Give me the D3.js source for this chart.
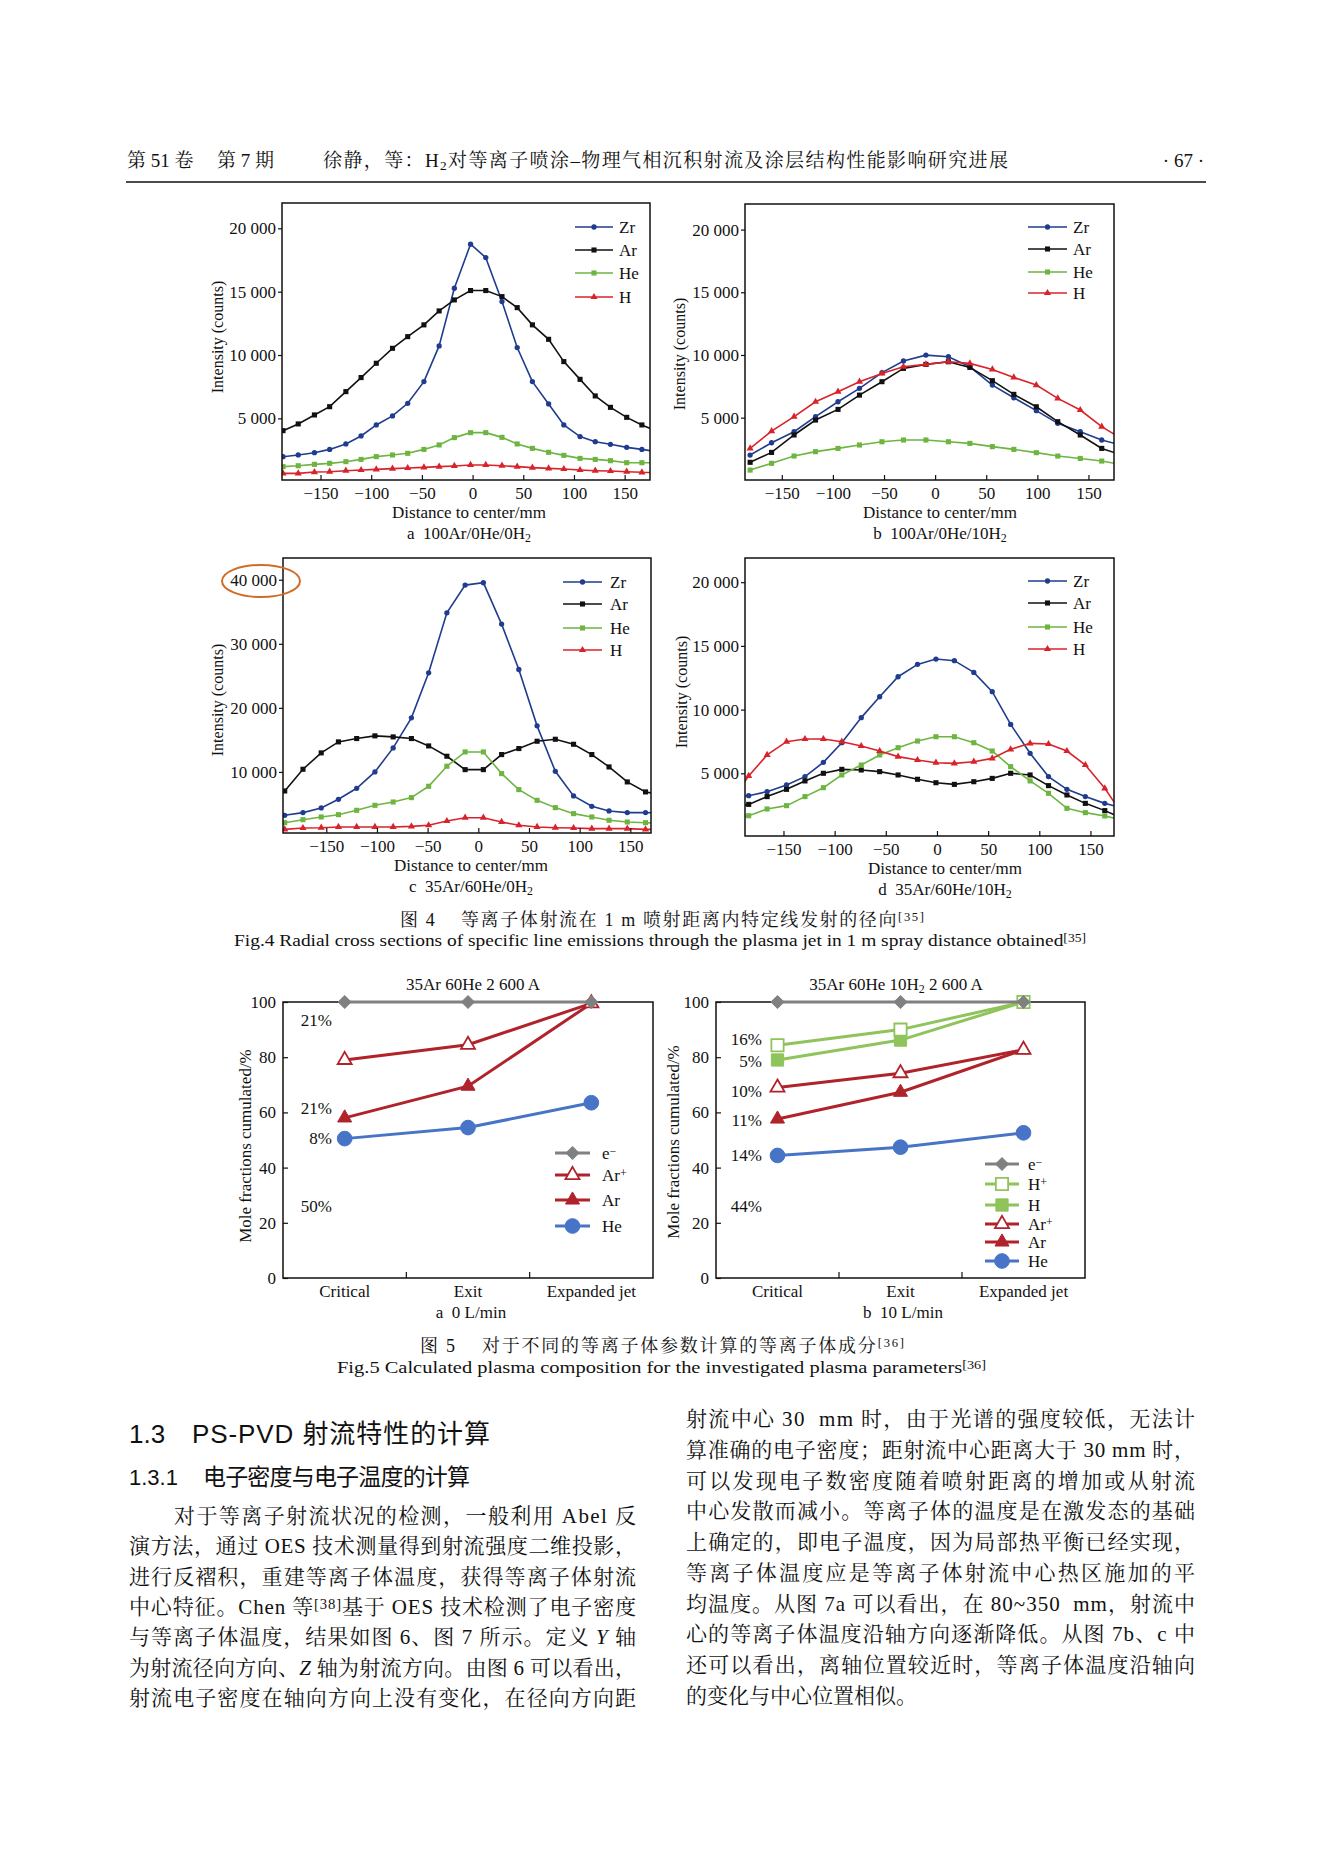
<!DOCTYPE html>
<html>
<head>
<meta charset="utf-8">
<script src="https://cdn.jsdelivr.net/npm/d3@7"></script>
<style>
  body { margin: 0; background: #fff; }
  svg text { font-family: 'Liberation Serif', 'Noto Serif CJK SC', 'Noto Sans CJK SC', serif; fill: #111; white-space: pre; }
</style>
</head>
<body>
<svg id="page" width="1326" height="1859"></svg>
<script>
// ---------- Fig.4 data (intensity counts vs distance to center, mm) ----------
var distTicks = [-150, -100, -50, 0, 50, 100, 150];
var ticks20k = [5000, 10000, 15000, 20000];
var ticks40k = [10000, 20000, 30000, 40000];
var fig4Series = ['Zr', 'Ar', 'He', 'H'];

var xsA = [-187,-172,-156,-141,-125,-110,-95,-79,-64,-48,-33,-18,-2,13,29,44,59,75,90,106,121,136,152,167,183];
var zrA = [1975,2110,2290,2550,2980,3610,4480,5190,6190,7900,10720,15270,18750,17690,14220,10590,7900,6140,4480,3560,3160,2950,2710,2550,2350];
var arA = [4030,4560,5270,5920,7110,8220,9350,10530,11450,12380,13480,14350,15090,15090,14610,13740,12380,11240,9480,8080,6770,5870,5080,4480,3950];
var heA = [1190,1260,1370,1450,1580,1760,1980,2110,2240,2550,2900,3480,3870,3870,3500,2980,2630,2320,2080,1840,1760,1660,1500,1500,1480];
var hA  = [660,660,760,790,870,920,970,1030,1080,1130,1190,1240,1320,1320,1260,1190,1110,1050,1000,920,870,840,790,740,720];

var xsB = [-181,-160,-138,-117,-95,-74,-52,-31,-9,13,34,56,77,99,120,142,163,185];
var zrB = [2020,3000,3880,5080,6270,7340,8590,9520,9990,9860,9060,7600,6590,5560,4550,3880,3220,2750];
var arB = [1440,2230,3620,4810,5660,6800,7870,8930,9250,9460,9010,7950,6860,5870,4680,3620,2550,1950];
var heB = [820,1360,1940,2290,2550,2820,3080,3220,3220,3080,2950,2690,2470,2210,1940,1750,1540,1220];
var hB  = [2550,3930,5080,6270,7070,7870,8530,9060,9250,9460,9330,8850,8210,7600,6540,5610,4280,3200];

var xsC = [-191,-173,-155,-138,-120,-102,-84,-66,-49,-31,-13,5,23,40,58,76,94,112,129,147,165,183];
var zrC = [3230,3650,4380,5730,7450,10000,13750,18440,25470,34840,39160,39530,33070,25990,17190,10100,6250,4640,3910,3650,3650,3600];
var arC = [7030,10420,12970,14690,15210,15630,15470,15210,14060,12450,10360,10360,12710,13650,14790,15100,14320,12710,10780,8440,6880,6400];
var heC = [2080,2550,2970,3330,4010,4790,5310,5990,7760,10890,13120,13120,9740,7240,5570,4430,3490,2970,2450,2190,2080,2000];
var hC  = [1040,1250,1300,1410,1410,1410,1410,1510,1670,2340,2860,2860,2190,1670,1410,1300,1250,1150,1150,1150,1040,1000];

var xsD = [-202,-184,-166,-147,-129,-111,-93,-74,-56,-38,-19,-1,17,36,54,72,91,109,127,145,164,182];
var zrD = [3150,3240,3560,4080,4740,5860,7400,9370,11010,12580,13550,13970,13840,12920,11410,8840,6570,4740,3740,3170,2640,2270];
var arD = [2250,2560,3170,3740,4400,5000,5310,5260,5130,4870,4530,4260,4130,4340,4600,5000,4870,4030,3300,2640,2070,1460];
var heD = [1450,1670,2200,2460,3170,3870,4870,5650,6440,7010,7530,7870,7870,7400,6750,5520,4400,3430,2250,1910,1650,1320];
var hD  = [2800,4790,6440,7480,7690,7690,7480,7140,6750,6310,6040,5830,5780,5910,6170,6880,7350,7300,6750,5650,3820,1700];

// ---------- Fig.5 data (mole fractions cumulated, %) ----------
var stages = ['Critical', 'Exit', 'Expanded jet'];
var molTicks = [0, 20, 40, 60, 80, 100];
var eA5   = [100, 100, 100];
var arIonA5 = [79, 84.5, 99.5];
var arA5  = [58, 69.5, 99.5];
var heA5  = [50.5, 54.5, 63.5];
var pctLabelsA = ['21%', '21%', '8%', '50%'];
var pctValuesA = [93.5, 61.6, 50.7, 26.1];

var eB5   = [100, 100, 100];
var hIonB5 = [84.3, 90, 100];
var hB5   = [79, 86.2, 100];
var arIonB5 = [69, 74.2, 82.7];
var arB5  = [57.6, 67.3, 82.7];
var heB5  = [44.4, 47.4, 52.6];
var pctLabelsB = ['16%', '5%', '10%', '11%', '14%', '44%'];
var pctValuesB = [86.6, 78.6, 67.8, 57.2, 44.6, 26.1];

// ---------- page text ----------
var headerLeft = ['第 51 卷', '第 7 期'];
var headerTitle = '徐静，等：H_{2}对等离子喷涂–物理气相沉积射流及涂层结构性能影响研究进展';
var headerPage = '· 67 ·';
var fig4Cn = '图 4    等离子体射流在 1 m 喷射距离内特定线发射的径向^{[35]}';
var fig4En = 'Fig.4 Radial cross sections of specific line emissions through the plasma jet in 1 m spray distance obtained^{[35]}';
var fig5Cn = '图 5    对于不同的等离子体参数计算的等离子体成分^{[36]}';
var fig5En = 'Fig.5 Calculated plasma composition for the investigated plasma parameters^{[36]}';
var leftLines = [
  '对于等离子射流状况的检测，一般利用 Abel 反',
  '演方法，通过 OES 技术测量得到射流强度二维投影，',
  '进行反褶积，重建等离子体温度，获得等离子体射流',
  '中心特征。Chen 等^{[38]}基于 OES 技术检测了电子密度',
  '与等离子体温度，结果如图 6、图 7 所示。定义 *Y* 轴',
  '为射流径向方向、*Z* 轴为射流方向。由图 6 可以看出，',
  '射流电子密度在轴向方向上没有变化，在径向方向距'
];
var rightLines = [
  '射流中心 30  mm 时，由于光谱的强度较低，无法计',
  '算准确的电子密度；距射流中心距离大于 30 mm 时，',
  '可以发现电子数密度随着喷射距离的增加或从射流',
  '中心发散而减小。等离子体的温度是在激发态的基础',
  '上确定的，即电子温度，因为局部热平衡已经实现，',
  '等离子体温度应是等离子体射流中心热区施加的平',
  '均温度。从图 7a 可以看出，在 80~350  mm，射流中',
  '心的等离子体温度沿轴方向逐渐降低。从图 7b、c 中',
  '还可以看出，离轴位置较近时，等离子体温度沿轴向',
  '的变化与中心位置相似。'
];

var svg = d3.select('#page');
var SANS = "'Liberation Sans', 'Noto Sans CJK SC', sans-serif";

// small markup: ^{..} superscript, _{..} subscript, *..* italic
function rich(t, str) {
  str.split(/(\^\{[^}]*\}|_\{[^}]*\}|\*[^*]+\*)/).forEach(function(p) {
    if (!p) return;
    if (p.slice(0, 2) === '^{') {
      t.append('tspan').attr('baseline-shift', '35%').attr('font-size', '70%').text(p.slice(2, -1));
    } else if (p.slice(0, 2) === '_{') {
      t.append('tspan').attr('baseline-shift', '-22%').attr('font-size', '70%').text(p.slice(2, -1));
    } else if (p[0] === '*') {
      t.append('tspan').attr('font-style', 'italic').text(p.slice(1, -1));
    } else {
      t.append('tspan').text(p);
    }
  });
  return t;
}

function addText(str, x, y, size, o) {
  o = o || {};
  var t = svg.append('text').attr('x', x).attr('y', y).attr('font-size', size);
  if (o.anchor) t.attr('text-anchor', o.anchor);
  if (o.family) t.style('font-family', o.family);
  if (o.len) t.attr('textLength', o.len).attr('lengthAdjust', o.adjust || 'spacing');
  return rich(t, str);
}

function vText(str, cx, cy, size) {
  svg.append('text')
    .attr('transform', 'translate(' + cx + ',' + cy + ') rotate(-90)')
    .attr('text-anchor', 'middle')
    .attr('dy', '0.35em')
    .attr('font-size', size)
    .text(str);
}

// ---------- header ----------
addText(headerLeft[0], 127, 167, 19);
addText(headerLeft[1], 217, 167, 19);
addText(headerTitle, 323, 167, 19, {len: 685});
addText(headerPage, 1204, 167, 19, {anchor: 'end'});
svg.append('line').attr('x1', 126).attr('x2', 1206).attr('y1', 182).attr('y2', 182)
  .attr('stroke', '#111').attr('stroke-width', 1.6);

// ---------- Fig.4 panels ----------
var fig4Style = {
  Zr: {color: '#1f3c8e', symbol: d3.symbolCircle, size: 22},
  Ar: {color: '#111111', symbol: d3.symbolSquare, size: 26},
  He: {color: '#6db540', symbol: d3.symbolSquare, size: 26},
  H:  {color: '#d8232a', symbol: d3.symbolTriangle, size: 22}
};
var spaceFmt = function(d) { return d3.format(',')(d).replace(/,/g, ' '); };
var minusFmt = function(d) { return d < 0 ? '\u2212' + Math.abs(d) : '' + d; };

var panels = [
  {id: 'a', left: 282, right: 650, top: 203, bottom: 480, xDomain: [-188, 175], yDomain: [134, 22000],
   yTicks: ticks20k, xs: xsA, data: {Zr: zrA, Ar: arA, He: heA, H: hA},
   yLabel: [217, 337], xLabelX: 469, caption: 'a  100Ar/0He/0H_{2}',
   leg: {x1: 575, x2: 613, tx: 619, ys: [227, 250, 273, 297]}},
  {id: 'b', left: 745, right: 1114, top: 204, bottom: 480, xDomain: [-186, 175], yDomain: [30, 22040],
   yTicks: ticks20k, xs: xsB, data: {Zr: zrB, Ar: arB, He: heB, H: hB},
   yLabel: [679, 354], xLabelX: 940, caption: 'b  100Ar/0He/10H_{2}',
   leg: {x1: 1028, x2: 1067, tx: 1073, ys: [227, 249, 272, 293]}},
  {id: 'c', left: 283, right: 651, top: 558, bottom: 833, xDomain: [-192.7, 170.4], yDomain: [469, 43390],
   yTicks: ticks40k, xs: xsC, data: {Zr: zrC, Ar: arC, He: heC, H: hC},
   yLabel: [217, 700], xLabelX: 471, caption: 'c  35Ar/60He/0H_{2}',
   leg: {x1: 563, x2: 602, tx: 610, ys: [582, 604, 628, 650]}},
  {id: 'd', left: 745, right: 1114, top: 558, bottom: 836, xDomain: [-187.6, 173], yDomain: [78, 21900],
   yTicks: ticks20k, xs: xsD, data: {Zr: zrD, Ar: arD, He: heD, H: hD},
   yLabel: [681, 692], xLabelX: 945, caption: 'd  35Ar/60He/10H_{2}',
   leg: {x1: 1028, x2: 1067, tx: 1073, ys: [581, 603, 627, 649]}}
];

panels.forEach(function(p) {
  var x = d3.scaleLinear().domain(p.xDomain).range([p.left, p.right]);
  var y = d3.scaleLinear().domain(p.yDomain).range([p.bottom, p.top]);

  svg.append('clipPath').attr('id', 'clip4' + p.id)
    .append('rect').attr('x', p.left).attr('y', p.top)
    .attr('width', p.right - p.left).attr('height', p.bottom - p.top);
  var plot = svg.append('g').attr('clip-path', 'url(#clip4' + p.id + ')');

  fig4Series.forEach(function(name) {
    var st = fig4Style[name];
    var vals = p.data[name];
    var pts = p.xs.map(function(d, i) { return [d, vals[i]]; });
    plot.append('path')
      .attr('d', d3.line().x(function(d) { return x(d[0]); }).y(function(d) { return y(d[1]); })(pts))
      .attr('fill', 'none').attr('stroke', st.color).attr('stroke-width', 1.6);
    plot.selectAll(null).data(pts).enter().append('path')
      .attr('transform', function(d) { return 'translate(' + x(d[0]) + ',' + y(d[1]) + ')'; })
      .attr('d', d3.symbol().type(st.symbol).size(st.size))
      .attr('fill', st.color);
  });

  var xAxis = svg.append('g').attr('transform', 'translate(0,' + p.bottom + ')')
    .call(d3.axisBottom(x).tickValues(distTicks).tickSizeInner(-5).tickSizeOuter(0).tickPadding(7).tickFormat(minusFmt));
  var yAxis = svg.append('g').attr('transform', 'translate(' + p.left + ',0)')
    .call(d3.axisLeft(y).tickValues(p.yTicks).tickSizeInner(4).tickSizeOuter(0).tickPadding(2).tickFormat(spaceFmt));
  [xAxis, yAxis].forEach(function(a) {
    a.attr('font-family', null).attr('font-size', 17);
    a.select('.domain').remove();
    a.selectAll('line').attr('stroke', '#111').attr('stroke-width', 1.2);
  });

  svg.append('rect').attr('x', p.left).attr('y', p.top)
    .attr('width', p.right - p.left).attr('height', p.bottom - p.top)
    .attr('fill', 'none').attr('stroke', '#111').attr('stroke-width', 1.5);

  vText('Intensity (counts)', p.yLabel[0], p.yLabel[1], 16);
  addText('Distance to center/mm', p.xLabelX, p.bottom + 38, 17, {anchor: 'middle'});
  addText(p.caption, p.xLabelX, p.bottom + 59, 17, {anchor: 'middle'});

  // legend
  fig4Series.forEach(function(name, i) {
    var st = fig4Style[name], ly = p.leg.ys[i];
    svg.append('line').attr('x1', p.leg.x1).attr('x2', p.leg.x2).attr('y1', ly).attr('y2', ly)
      .attr('stroke', st.color).attr('stroke-width', 1.6);
    svg.append('path').attr('transform', 'translate(' + (p.leg.x1 + p.leg.x2) / 2 + ',' + ly + ')')
      .attr('d', d3.symbol().type(st.symbol).size(st.size)).attr('fill', st.color);
    addText(name, p.leg.tx, ly + 6, 17);
  });
});

// highlight ring round the 40 000 tick of panel c
svg.append('ellipse').attr('cx', 261).attr('cy', 581).attr('rx', 39).attr('ry', 16)
  .attr('fill', 'none').attr('stroke', '#cf6d28').attr('stroke-width', 2);

addText(fig4Cn, 400, 926, 18, {len: 524});
addText(fig4En, 234, 946, 17, {len: 852, adjust: 'spacingAndGlyphs'});

// ---------- Fig.5 panels ----------
var fig5Style = {
  e:     {label: 'e^{−}',  color: '#808080', symbol: d3.symbolSquare,   size: 80,  rot: 45, fill: '#808080'},
  hIon:  {label: 'H^{+}',  color: '#8fc35c', symbol: d3.symbolSquare,   size: 150, fill: '#ffffff'},
  h:     {label: 'H',      color: '#8fc35c', symbol: d3.symbolSquare,   size: 150, fill: '#8fc35c'},
  arIon: {label: 'Ar^{+}', color: '#b0232b', symbol: d3.symbolTriangle, size: 85,  fill: '#ffffff'},
  ar:    {label: 'Ar',     color: '#b0232b', symbol: d3.symbolTriangle, size: 85,  fill: '#b0232b'},
  he:    {label: 'He',     color: '#4774c6', symbol: d3.symbolCircle,   size: 170, fill: '#4774c6'}
};

var panels5 = [
  {id: 'a', left: 283, right: 653, top: 1002, bottom: 1278, title: '35Ar 60He 2 600 A', titleX: 473,
   caption: 'a  0 L/min', capX: 471, yLabel: [245, 1146],
   series: {e: eA5, arIon: arIonA5, ar: arA5, he: heA5},
   drawOrder: ['he', 'ar', 'arIon', 'e'], legOrder: ['e', 'arIon', 'ar', 'he'],
   leg: {x1: 555, x2: 590, tx: 602, ys: [1153, 1175, 1200, 1226]},
   pct: pctLabelsA, pctV: pctValuesA, pctX: 332},
  {id: 'b', left: 716, right: 1085, top: 1002, bottom: 1278, title: '35Ar 60He 10H_{2} 2 600 A', titleX: 896,
   caption: 'b  10 L/min', capX: 903, yLabel: [673, 1142],
   series: {e: eB5, hIon: hIonB5, h: hB5, arIon: arIonB5, ar: arB5, he: heB5},
   drawOrder: ['he', 'ar', 'arIon', 'h', 'hIon', 'e'], legOrder: ['e', 'hIon', 'h', 'arIon', 'ar', 'he'],
   leg: {x1: 985, x2: 1019, tx: 1028, ys: [1164, 1184, 1205, 1224, 1242, 1261]},
   pct: pctLabelsB, pctV: pctValuesB, pctX: 762}
];

function marker5(g, st, cx, cy) {
  g.append('path')
    .attr('transform', 'translate(' + cx + ',' + cy + ')' + (st.rot ? ' rotate(' + st.rot + ')' : ''))
    .attr('d', d3.symbol().type(st.symbol).size(st.size))
    .attr('fill', st.fill).attr('stroke', st.color).attr('stroke-width', st.fill === '#ffffff' ? 1.8 : 1);
}

panels5.forEach(function(p) {
  var x = d3.scaleBand().domain(stages).range([p.left, p.right]);
  var y = d3.scaleLinear().domain([0, 100]).range([p.bottom, p.top]);
  var cx = function(d) { return x(d) + x.bandwidth() / 2; };

  svg.append('rect').attr('x', p.left).attr('y', p.top)
    .attr('width', p.right - p.left).attr('height', p.bottom - p.top)
    .attr('fill', 'none').attr('stroke', '#111').attr('stroke-width', 1.5);

  var yAxis = svg.append('g').attr('transform', 'translate(' + p.left + ',0)')
    .call(d3.axisLeft(y).tickValues(molTicks).tickSizeInner(-5).tickSizeOuter(0).tickPadding(7));
  var xAxis = svg.append('g').attr('transform', 'translate(0,' + p.bottom + ')')
    .call(d3.axisBottom(x).tickSize(0).tickPadding(7));
  [xAxis, yAxis].forEach(function(a) {
    a.attr('font-family', null).attr('font-size', 17);
    a.select('.domain').remove();
    a.selectAll('line').attr('stroke', '#111').attr('stroke-width', 1.2);
  });
  // boundary ticks between stages
  svg.selectAll(null).data(stages.slice(1)).enter().append('line')
    .attr('x1', function(d) { return x(d); }).attr('x2', function(d) { return x(d); })
    .attr('y1', p.bottom).attr('y2', p.bottom - 6)
    .attr('stroke', '#111').attr('stroke-width', 1.2);

  p.drawOrder.forEach(function(key) {
    var st = fig5Style[key], vals = p.series[key];
    svg.append('path')
      .attr('d', d3.line().x(function(d, i) { return cx(stages[i]); }).y(function(d) { return y(d); })(vals))
      .attr('fill', 'none').attr('stroke', st.color).attr('stroke-width', 3);
    vals.forEach(function(v, i) { marker5(svg, st, cx(stages[i]), y(v)); });
  });

  p.pct.forEach(function(lbl, i) {
    addText(lbl, p.pctX, y(p.pctV[i]) + 6, 17, {anchor: 'end'});
  });

  p.legOrder.forEach(function(key, i) {
    var st = fig5Style[key], ly = p.leg.ys[i];
    svg.append('line').attr('x1', p.leg.x1).attr('x2', p.leg.x2).attr('y1', ly).attr('y2', ly)
      .attr('stroke', st.color).attr('stroke-width', 3);
    marker5(svg, st, (p.leg.x1 + p.leg.x2) / 2, ly);
    addText(st.label, p.leg.tx, ly + 6, 17);
  });

  addText(p.title, p.titleX, p.top - 12, 17, {anchor: 'middle'});
  addText(p.caption, p.capX, p.bottom + 40, 17, {anchor: 'middle'});
  vText('Mole fractions cumulated/%', p.yLabel[0], p.yLabel[1], 17);
});

addText(fig5Cn, 420, 1352, 18, {len: 484});
addText(fig5En, 337, 1373, 17, {len: 649, adjust: 'spacingAndGlyphs'});

// ---------- section headings & body ----------
addText('1.3', 129, 1443, 26, {family: SANS});
addText('PS-PVD 射流特性的计算', 192, 1443, 26, {family: SANS, len: 298});
addText('1.3.1', 129, 1485, 22, {family: SANS});
addText('电子密度与电子温度的计算', 203, 1485, 23, {family: SANS, len: 267});

leftLines.forEach(function(line, i) {
  var x0 = i === 0 ? 174 : 129;
  addText(line, x0, 1523 + i * 30.3, 21, {len: 636 - x0});
});
rightLines.forEach(function(line, i) {
  var o = i < rightLines.length - 1 ? {len: 509} : {};
  addText(line, 686, 1426 + i * 30.75, 21, o);
});
</script>
</body>
</html>
